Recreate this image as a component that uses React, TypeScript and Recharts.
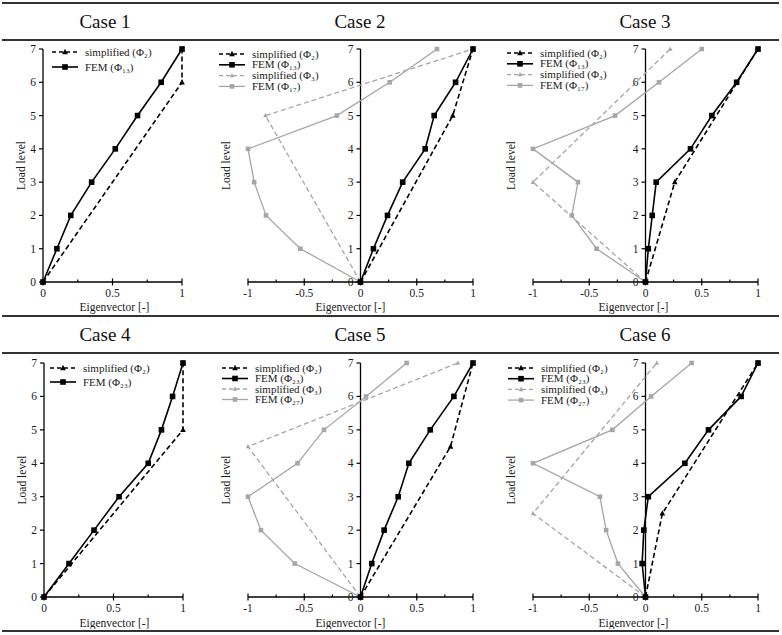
import { ScatterChart, Scatter, XAxis, YAxis, ReferenceLine } from "recharts";

const LEVELS = [0, 1, 2, 3, 4, 5, 6, 7];
const X_TICKS_POS = [0, 0.25, 0.5, 0.75, 1];
const X_TICKS_FULL = [-1, -0.75, -0.5, -0.25, 0, 0.25, 0.5, 0.75, 1];

// Case 1
const case1SimpLevels = [0, 6, 7];
const case1SimpPhi2 = [0, 1, 1];
const case1FemPhi13 = [0, 0.1, 0.2, 0.35, 0.52, 0.68, 0.85, 1];
// Case 2
const case2SimpLevels = [0, 5, 7];
const case2SimpPhi2 = [0, 0.82, 1];
const case2FemPhi13 = [0, 0.115, 0.24, 0.375, 0.575, 0.655, 0.845, 1];
const case2SimpPhi3 = [0, -0.845, 1];
const case2FemPhi17 = [0, -0.535, -0.84, -0.945, -1, -0.21, 0.26, 0.68];
// Case 3
const case3SimpLevels = [0, 3, 7];
const case3SimpPhi2 = [0, 0.26, 1];
const case3FemPhi13 = [0, 0.025, 0.06, 0.095, 0.4, 0.59, 0.81, 1];
const case3SimpPhi3 = [0, -1, 0.22];
const case3FemPhi17 = [0, -0.435, -0.655, -0.6, -1, -0.27, 0.12, 0.5];
// Case 4
const case4SimpLevels = [0, 5, 7];
const case4SimpPhi2 = [0, 1, 1];
const case4FemPhi23 = [0, 0.18, 0.36, 0.54, 0.75, 0.845, 0.925, 1];
// Case 5
const case5SimpLevels = [0, 4.5, 7];
const case5SimpPhi2 = [0, 0.8, 1];
const case5FemPhi23 = [0, 0.1, 0.21, 0.335, 0.43, 0.62, 0.83, 1];
const case5SimpPhi3 = [0, -1, 0.865];
const case5FemPhi27 = [0, -0.585, -0.885, -1, -0.56, -0.325, 0.05, 0.41];
// Case 6
const case6SimpLevels = [0, 2.5, 7];
const case6SimpPhi2 = [0, 0.15, 1];
const case6FemPhi23 = [0, -0.03, -0.015, 0.025, 0.35, 0.56, 0.85, 1];
const case6SimpPhi3 = [0, -1, 0.1];
const case6FemPhi27 = [0, -0.245, -0.35, -0.405, -1, -0.295, 0.05, 0.41];

const BLACK = "#000";
const GREY = "#a6a6a6";
const FONT =
  "'Liberation Serif', 'DejaVu Serif', 'Noto Serif', 'Times New Roman', Times, serif";
const Y_W = 30;
const RIGHT = 10;

type Series = {
  label: string;
  xs: number[];
  ys: number[];
  fem: boolean;
  grey: boolean;
};

const pts = (xs: number[], ys: number[]) => xs.map((x, i) => ({ x, y: ys[i] }));

const simp = (label: string, xs: number[], ys: number[], grey = false): Series => ({
  label,
  xs,
  ys,
  fem: false,
  grey,
});
const fem = (label: string, xs: number[], grey = false): Series => ({
  label,
  xs,
  ys: LEVELS,
  fem: true,
  grey,
});

const panels = [
  {
    title: "Case 1", titleX: 105, titleY: 22,
    left: 13, top: 41, width: 179, height: 273,
    domain: [0, 1], ticks: X_TICKS_POS, labelShift: 2, labelY: 29,
    legend: { x: 52, y: 52, gap: 15 },
    series: [
      simp("simplified (Φ₂)", case1SimpPhi2, case1SimpLevels),
      fem("FEM (Φ₁₃)", case1FemPhi13),
    ],
  },
  {
    title: "Case 2", titleX: 360, titleY: 22,
    left: 218, top: 41, width: 265, height: 273,
    domain: [-1, 1], ticks: X_TICKS_FULL, labelShift: -10, labelY: 29,
    legend: { x: 219, y: 54, gap: 10.8 },
    series: [
      simp("simplified (Φ₂)", case2SimpPhi2, case2SimpLevels),
      fem("FEM (Φ₁₃)", case2FemPhi13),
      simp("simplified (Φ₃)", case2SimpPhi3, case2SimpLevels, true),
      fem("FEM (Φ₁₇)", case2FemPhi17, true),
    ],
  },
  {
    title: "Case 3", titleX: 645, titleY: 22,
    left: 503, top: 41, width: 265, height: 273,
    domain: [-1, 1], ticks: X_TICKS_FULL, labelShift: -12, labelY: 29,
    legend: { x: 507, y: 53, gap: 10.8 },
    series: [
      simp("simplified (Φ₂)", case3SimpPhi2, case3SimpLevels),
      fem("FEM (Φ₁₃)", case3FemPhi13),
      simp("simplified (Φ₃)", case3SimpPhi3, case3SimpLevels, true),
      fem("FEM (Φ₁₇)", case3FemPhi17, true),
    ],
  },
  {
    title: "Case 4", titleX: 105, titleY: 335,
    left: 14, top: 355, width: 179, height: 274,
    domain: [0, 1], ticks: X_TICKS_POS, labelShift: 1, labelY: 30,
    legend: { x: 50, y: 368, gap: 14 },
    series: [
      simp("simplified (Φ₂)", case4SimpPhi2, case4SimpLevels),
      fem("FEM (Φ₂₃)", case4FemPhi23),
    ],
  },
  {
    title: "Case 5", titleX: 360, titleY: 335,
    left: 218, top: 355, width: 265, height: 274,
    domain: [-1, 1], ticks: X_TICKS_FULL, labelShift: -10, labelY: 30,
    legend: { x: 222, y: 368, gap: 10.5 },
    series: [
      simp("simplified (Φ₂)", case5SimpPhi2, case5SimpLevels),
      fem("FEM (Φ₂₃)", case5FemPhi23),
      simp("simplified (Φ₃)", case5SimpPhi3, case5SimpLevels, true),
      fem("FEM (Φ₂₇)", case5FemPhi27, true),
    ],
  },
  {
    title: "Case 6", titleX: 645, titleY: 335,
    left: 503, top: 355, width: 265, height: 274,
    domain: [-1, 1], ticks: X_TICKS_FULL, labelShift: -12, labelY: 30,
    legend: { x: 508, y: 368, gap: 10.7 },
    series: [
      simp("simplified (Φ₂)", case6SimpPhi2, case6SimpLevels),
      fem("FEM (Φ₂₃)", case6FemPhi23),
      simp("simplified (Φ₃)", case6SimpPhi3, case6SimpLevels, true),
      fem("FEM (Φ₂₇)", case6FemPhi27, true),
    ],
  },
];

function Marker({ cx, cy, fem, grey }: { cx: number; cy: number; fem: boolean; grey: boolean }) {
  const s = grey ? 4.6 : 5.6;
  const color = grey ? GREY : BLACK;
  if (fem) {
    return <rect x={cx - s / 2} y={cy - s / 2} width={s} height={s} fill={color} />;
  }
  const h = s * 0.95;
  return (
    <polygon
      points={`${cx},${cy - h * 0.6} ${cx - s / 2},${cy + h * 0.4} ${cx + s / 2},${cy + h * 0.4}`}
      fill={color}
    />
  );
}

function lineStyle(s: Series) {
  return {
    stroke: s.grey ? GREY : BLACK,
    strokeWidth: s.grey ? 1.3 : 1.6,
    strokeDasharray: s.fem ? undefined : "5 3",
  };
}

const XTick = (props: any) => {
  const { x, y, payload } = props;
  const v = payload.value as number;
  const major = Math.abs(v * 2 - Math.round(v * 2)) < 1e-6;
  return (
    <g>
      <line x1={x} x2={x} y1={major ? y - 3.5 : y - 2.5} y2={major ? y + 3.5 : y} stroke={BLACK} strokeWidth={1.2} />
      {major && (
        <text x={x} y={y + 14.5} textAnchor="middle" style={{ fontFamily: FONT }} fontSize={11.5} fill="#1a1a1a">
          {String(v)}
        </text>
      )}
    </g>
  );
};

const makeYTick = (offset: number) => (props: any) => {
  const { x, y, payload } = props;
  const ax = x + offset;
  return (
    <g>
      <line x1={ax - 4} x2={ax} y1={y} y2={y} stroke={BLACK} strokeWidth={1.2} />
      <text x={ax - 7} y={y + 4} textAnchor="end" style={{ fontFamily: FONT }} fontSize={11.5} fill="#1a1a1a">
        {payload.value}
      </text>
    </g>
  );
};

const YLabel = (props: any) => {
  const vb = props.viewBox || {};
  const cx = vb.x + 8;
  const cy = vb.y + vb.height / 2;
  return (
    <text
      x={cx}
      y={cy}
      transform={`rotate(-90 ${cx} ${cy})`}
      textAnchor="middle"
      dominantBaseline="central"
      style={{ fontFamily: FONT }}
      fontSize={11.5}
      fill="#1a1a1a"
    >
      Load level
    </text>
  );
};

const makeXLabel = (shift: number, dy: number) => (props: any) => {
  const vb = props.viewBox || {};
  return (
    <text
      x={vb.x + vb.width / 2 + shift}
      y={vb.y + dy}
      textAnchor="middle"
      style={{ fontFamily: FONT }}
      fontSize={11.5}
      fill="#1a1a1a"
    >
      Eigenvector [-]
    </text>
  );
};

function Legend({ series, x, y, gap }: { series: Series[]; x: number; y: number; gap: number }) {
  return (
    <svg
      width={140}
      height={series.length * gap + 10}
      style={{ position: "absolute", left: x, top: y - 6, overflow: "visible" }}
    >
      {series.map((s, i) => {
        const cy = 6 + i * gap;
        const st = lineStyle(s);
        return (
          <g key={i}>
            <line x1={0} x2={26} y1={cy} y2={cy} {...st} strokeDasharray={s.fem ? undefined : "4 3"} />
            <Marker cx={13} cy={cy} fem={s.fem} grey={s.grey} />
            <text x={33} y={cy + 3.5} style={{ fontFamily: FONT }} fontSize={11} fill="#1a1a1a">
              {s.label}
            </text>
          </g>
        );
      })}
    </svg>
  );
}

function Panel({ p }: { p: (typeof panels)[number] }) {
  const plotW = p.width - Y_W - RIGHT;
  const zeroOffset = ((0 - p.domain[0]) / (p.domain[1] - p.domain[0])) * plotW;
  const order = [...p.series].sort((a, b) => Number(b.grey) - Number(a.grey));
  return (
    <>
      <div
        style={{
          position: "absolute",
          left: p.titleX - 60,
          width: 120,
          top: p.titleY - 11,
          height: 22,
          lineHeight: "22px",
          textAlign: "center",
          fontFamily: FONT,
          fontSize: 19,
          color: "#111",
        }}
      >
        {p.title}
      </div>
      <div style={{ position: "absolute", left: p.left, top: p.top }}>
        <ScatterChart
          width={p.width}
          height={p.height}
          margin={{ top: 8, right: RIGHT, bottom: 0, left: 0 }}
        >
          <XAxis
            type="number"
            dataKey="x"
            domain={p.domain}
            ticks={p.ticks}
            interval={0}
            height={32}
            tickSize={0}
            tickMargin={0}
            tick={XTick}
            axisLine={{ stroke: BLACK, strokeWidth: 1.3 }}
            label={makeXLabel(p.labelShift, p.labelY)}
          />
          <YAxis
            type="number"
            dataKey="y"
            domain={[0, 7]}
            ticks={LEVELS}
            interval={0}
            width={Y_W}
            tickSize={0}
            tickMargin={0}
            tick={makeYTick(zeroOffset)}
            axisLine={false}
            label={YLabel}
          />
          <ReferenceLine x={0} stroke={BLACK} strokeWidth={1.3} />
          {order.map((s, i) => (
            <Scatter
              key={i}
              data={pts(s.xs, s.ys)}
              line={lineStyle(s)}
              lineType="joint"
              fill={s.grey ? GREY : BLACK}
              shape={(sp: any) => <Marker cx={sp.cx} cy={sp.cy} fem={s.fem} grey={s.grey} />}
              isAnimationActive={false}
            />
          ))}
        </ScatterChart>
      </div>
      <Legend series={p.series} x={p.legend.x} y={p.legend.y} gap={p.legend.gap} />
    </>
  );
}

const rule = (top: number, h: number) => (
  <div style={{ position: "absolute", left: 2, width: 777, top, height: h, background: "#333" }} />
);

export default function App() {
  return (
    <div
      style={{
        position: "absolute",
        left: 0,
        top: 0,
        width: 782,
        height: 635,
        background: "#fff",
        overflow: "hidden",
        fontFamily: FONT,
      }}
    >
      {rule(2, 1.5)}
      {rule(39, 2)}
      {rule(315, 2)}
      {rule(352, 2)}
      {rule(630, 2)}
      {panels.map((p) => (
        <Panel key={p.title} p={p} />
      ))}
    </div>
  );
}
